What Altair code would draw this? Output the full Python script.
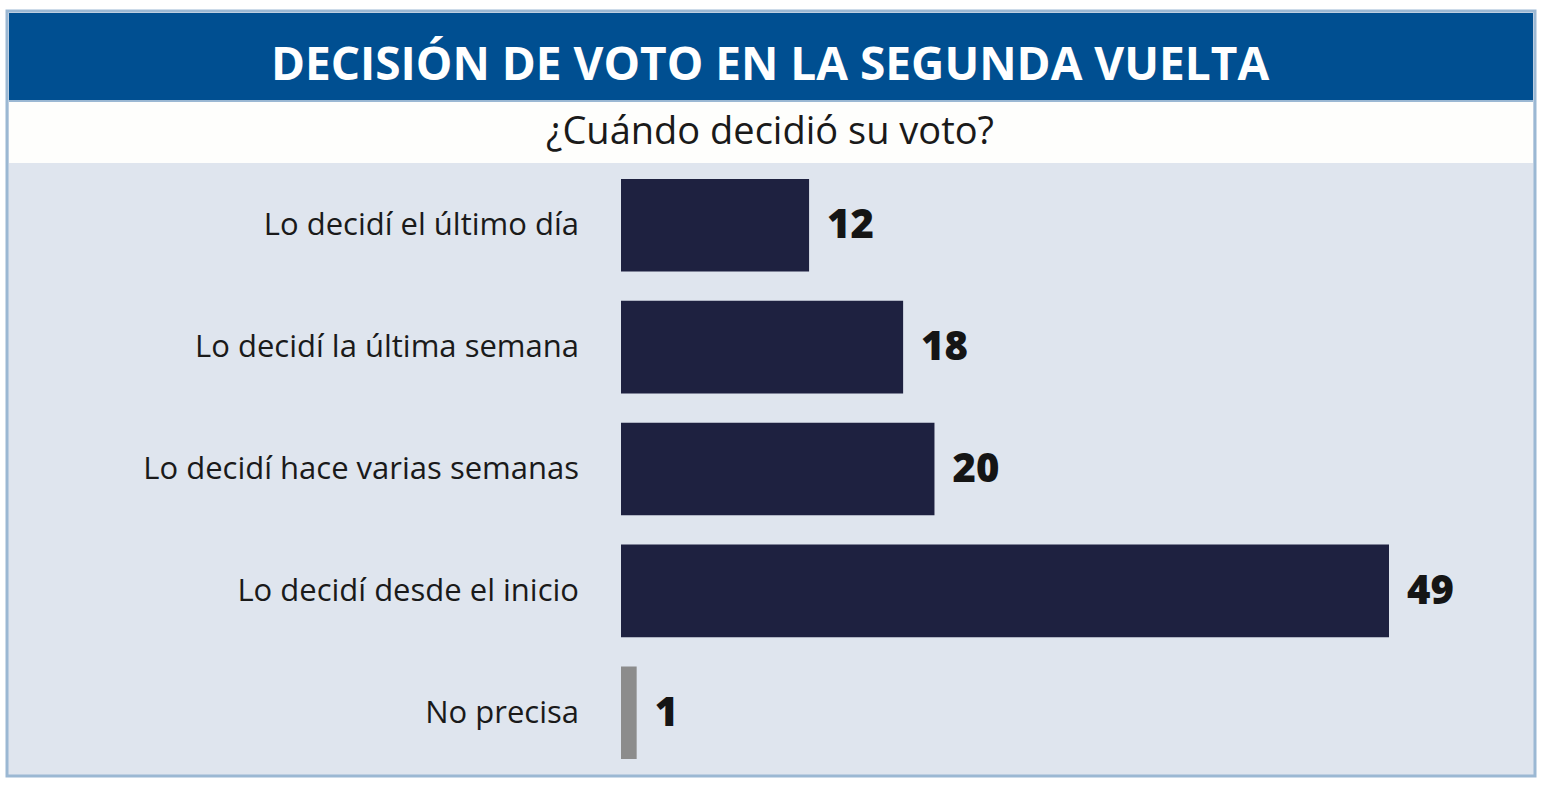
import altair as alt
import pandas as pd

categories = [
    "Lo decidí el último día",
    "Lo decidí la última semana",
    "Lo decidí hace varias semanas",
    "Lo decidí desde el inicio",
    "No precisa",
]
values = [12, 18, 20, 49, 1]
bar_colors = ["#1e2140", "#1e2140", "#1e2140", "#1e2140", "#8c8c8c"]

title_text = "DECISIÓN DE VOTO EN LA SEGUNDA VUELTA"
subtitle_text = "¿Cuándo decidió su voto?"

df = pd.DataFrame({"cat": categories, "val": values, "color": bar_colors})
one = alt.Data(values=[{"k": 1}])

W, H = 1558, 790

x_scale = alt.Scale(domain=[0, 49], range=[621, 1389], nice=False, zero=True)
y_scale = alt.Scale(domain=categories, range=[179, 759], paddingInner=0.24, paddingOuter=0)

frame = alt.Chart(one).mark_rect(fill="#dfe5ee", stroke="#9bb8d3", strokeWidth=3).encode(
    x=alt.value(7), x2=alt.value(1535), y=alt.value(11), y2=alt.value(776)
)
white_band = alt.Chart(one).mark_rect(fill="#fefefc").encode(
    x=alt.value(9), x2=alt.value(1533), y=alt.value(101), y2=alt.value(163)
)
blue_band = alt.Chart(one).mark_rect(fill="#004f91").encode(
    x=alt.value(9), x2=alt.value(1533), y=alt.value(13), y2=alt.value(101)
)
blue_edge = alt.Chart(one).mark_rect(fill="#9bb8d3").encode(
    x=alt.value(9), x2=alt.value(1533), y=alt.value(100), y2=alt.value(102)
)
title = alt.Chart(one).mark_text(
    text=title_text, font="Open Sans", fontWeight="bold", fontSize=46,
    color="white", align="center", baseline="alphabetic",
).encode(x=alt.value(770), y=alt.value(80))
subtitle = alt.Chart(one).mark_text(
    text=subtitle_text, font="Open Sans", fontSize=38,
    color="#1a1a1a", align="center", baseline="alphabetic",
).encode(x=alt.value(770), y=alt.value(144))

base = alt.Chart(df)
bars = base.mark_bar().encode(
    x=alt.X("val:Q", scale=x_scale, axis=None),
    y=alt.Y("cat:N", scale=y_scale, axis=None, sort=categories),
    color=alt.Color("color:N", scale=None),
)
cat_labels = base.mark_text(
    font="Open Sans", fontSize=31, color="#1a1a1a", align="right",
    baseline="alphabetic", dy=10,
).encode(
    x=alt.value(579),
    y=alt.Y("cat:N", scale=y_scale, axis=None, sort=categories),
    text="cat:N",
)
val_labels = base.mark_text(
    font="Open Sans", fontWeight=800, fontSize=40, color="#151515",
    align="left", baseline="alphabetic", dx=18, dy=13,
).encode(
    x=alt.X("val:Q", scale=x_scale, axis=None),
    y=alt.Y("cat:N", scale=y_scale, axis=None, sort=categories),
    text="val:Q",
)

chart = alt.layer(
    frame, white_band, blue_band, blue_edge, title, subtitle, bars, cat_labels, val_labels
).properties(
    width=W, height=H, padding=0, autosize=alt.AutoSizeParams(type="none"),
    background="white",
).configure_view(stroke=None)

chart.save("out.html", embed_options={"renderer": "svg", "actions": False})
